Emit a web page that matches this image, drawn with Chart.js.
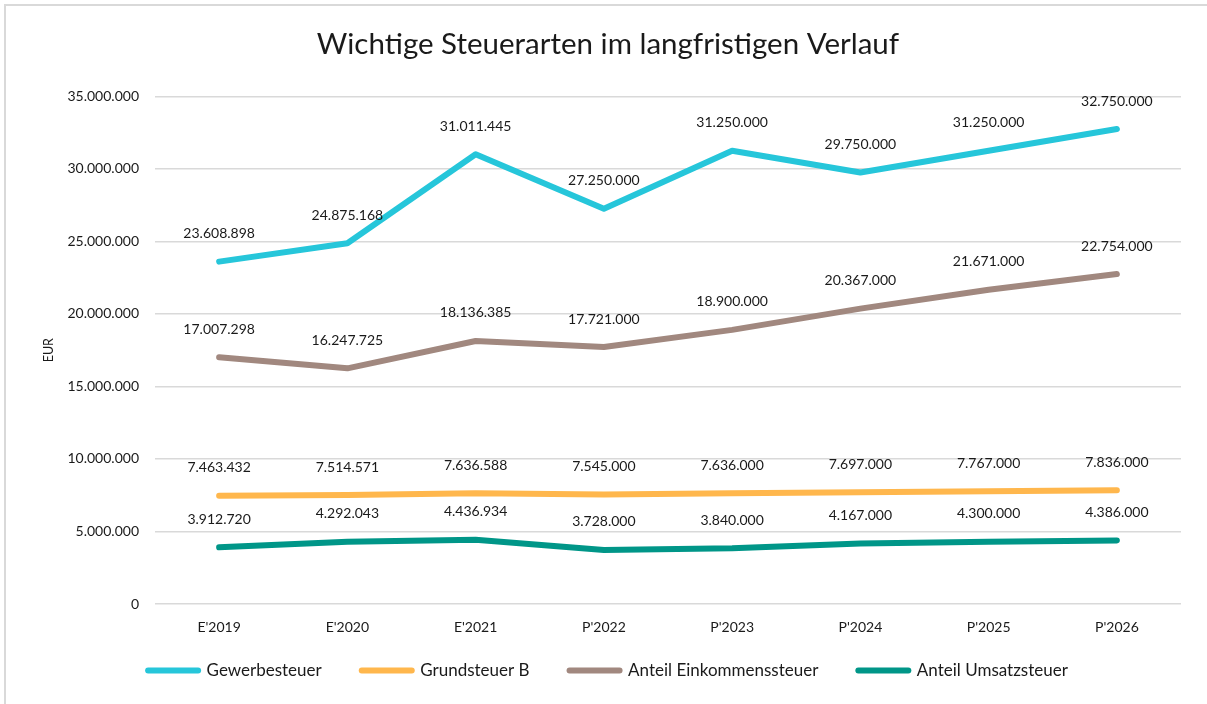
<!DOCTYPE html>
<html lang="de">
<head>
<meta charset="utf-8">
<title>Wichtige Steuerarten im langfristigen Verlauf</title>
<script src="https://cdn.jsdelivr.net/npm/chart.js@4.4.1/dist/chart.umd.min.js"></script>
<style>
  html, body { margin: 0; padding: 0; background: #fff; }
  #wrap { position: relative; width: 1207px; height: 704px; overflow: hidden; }
  #frame {
    position: absolute; left: 4px; top: 4px; width: 1220px; height: 720px;
    border-left: 2px solid #d9d9d9; border-top: 2px solid #d9d9d9;
    pointer-events: none;
  }
</style>
</head>
<body>
<div id="wrap">
  <canvas id="steuerChart" width="1207" height="704"></canvas>
  <div id="frame"></div>
</div>
<script>
// Jahre (E = Ergebnis, P = Plan)
const labels = ["E'2019", "E'2020", "E'2021", "P'2022", "P'2023", "P'2024", "P'2025", "P'2026"];

const gewerbesteuer = [23608898, 24875168, 31011445, 27250000, 31250000, 29750000, 31250000, 32750000];
const grundsteuerB = [7463432, 7514571, 7636588, 7545000, 7636000, 7697000, 7767000, 7836000];
const einkommenssteuer = [17007298, 16247725, 18136385, 17721000, 18900000, 20367000, 21671000, 22754000];
const umsatzsteuer = [3912720, 4292043, 4436934, 3728000, 3840000, 4167000, 4300000, 4386000];

const yTicks = [0, 5000000, 10000000, 15000000, 20000000, 25000000, 30000000, 35000000];

const textColor = "#1a1a1a";

function formatDe(v) {
    return String(Math.round(v)).replace(/\B(?=(\d{3})+(?!\d))/g, ".");
}

// Werte über den Punkten
const valueLabels = {
    id: "valueLabels",
    afterDatasetsDraw(chart) {
        const ctx = chart.ctx;
        ctx.save();
        ctx.font = "14px Lato";
        ctx.fillStyle = textColor;
        ctx.textAlign = "center";
        ctx.textBaseline = "middle";
        chart.data.datasets.forEach((ds, i) => {
            const meta = chart.getDatasetMeta(i);
            meta.data.forEach((pt, j) => {
                ctx.fillText(formatDe(ds.data[j]), pt.x, pt.y - 28);
            });
        });
        ctx.restore();
    }
};

// Legende etwas näher an die Achse rücken (padding gilt sonst auch vertikal)
const legendShift = {
    id: "legendShift",
    afterLayout(chart) {
        chart.legend.top -= 30;
    }
};

Chart.defaults.font.family = "Lato";
Chart.defaults.color = textColor;

function line(label, data, color) {
    return {
        label: label,
        data: data,
        borderColor: color,
        backgroundColor: color,
        borderWidth: 6,
        borderCapStyle: "round",
        borderJoinStyle: "round",
        pointRadius: 0,
        pointHoverRadius: 0,
        tension: 0,
        fill: false
    };
}

new Chart(document.getElementById("steuerChart"), {
    type: "line",
    data: {
        labels: labels,
        datasets: [
            line("Gewerbesteuer", gewerbesteuer, "#26C6DA"),
            line("Grundsteuer B", grundsteuerB, "#FFB74D"),
            line("Anteil Einkommenssteuer", einkommenssteuer, "#A1887F"),
            line("Anteil Umsatzsteuer", umsatzsteuer, "#009688")
        ]
    },
    options: {
        responsive: false,
        animation: false,
        layout: { padding: { left: 35, right: 26, top: 10, bottom: 0 } },
        plugins: {
            title: {
                display: true,
                text: "Wichtige Steuerarten im langfristigen Verlauf",
                color: textColor,
                font: { size: 29.5, weight: "normal" },
                padding: { top: 17, bottom: 34 }
            },
            legend: {
                position: "bottom",
                maxHeight: 52,
                labels: {
                    usePointStyle: true,
                    pointStyle: "line",
                    pointStyleWidth: 50,
                    font: { size: 17 },
                    padding: 40,
                    color: textColor,
                    generateLabels(chart) {
                        const items = Chart.defaults.plugins.legend.labels.generateLabels(chart);
                        return items.map(it => Object.assign(it, { lineCap: "round", lineWidth: 6 }));
                    }
                }
            },
            tooltip: { enabled: false }
        },
        scales: {
            x: {
                offset: true,
                grid: { display: false },
                border: { display: false },
                ticks: { font: { size: 14 }, padding: 7, color: textColor },
                afterFit(scale) { scale.height = 48; }
            },
            y: {
                min: 0,
                max: 35000000,
                afterBuildTicks(scale) { scale.ticks = yTicks.map(v => ({ value: v })); },
                grid: { color: "#d9d9d9", lineWidth: 1.5, drawTicks: false },
                border: { display: false },
                ticks: {
                    font: { size: 14 },
                    padding: 16,
                    color: textColor,
                    callback: v => formatDe(v)
                },
                title: {
                    display: true,
                    text: "EUR",
                    font: { size: 12.5 },
                    color: textColor,
                    padding: { top: 6, bottom: 0 }
                },
                afterFit(scale) { scale.width = 120; }
            }
        }
    },
    plugins: [valueLabels, legendShift]
});
</script>
</body>
</html>
